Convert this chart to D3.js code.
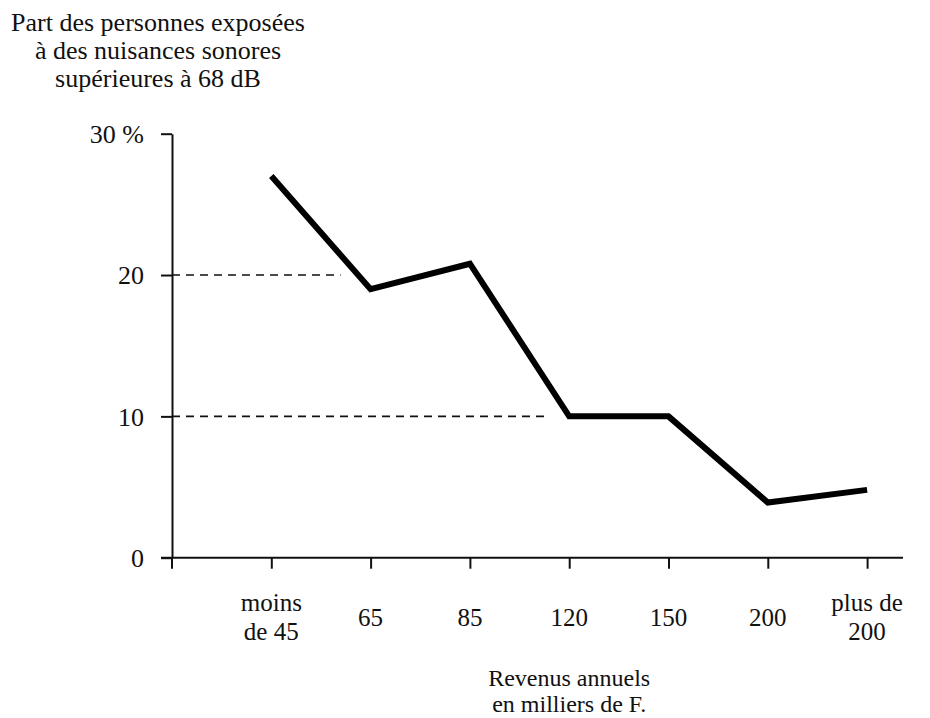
<!DOCTYPE html>
<html>
<head>
<meta charset="utf-8">
<script src="https://cdn.jsdelivr.net/npm/d3@7"></script>
<style>
  html, body { margin: 0; padding: 0; background: #fff; }
  svg { display: block; }
  text { font-family: "Liberation Serif", "DejaVu Serif", serif; fill: #111; }
</style>
</head>
<body>
<svg id="chart" width="930" height="718"></svg>
<script>
// ---- data ----
const categories = ["moins de 45", "65", "85", "120", "150", "200", "plus de 200"];
const categoryLines = [["moins", "de 45"], ["65"], ["85"], ["120"], ["150"], ["200"], ["plus de", "200"]];
const values = [27, 19, 20.8, 10, 10, 3.9, 4.8];
const yTicks = [0, 10, 20, 30];
const yTickLabels = ["0", "10", "20", "30 %"];
const guideValues = [20, 10];
const guideEnds = ["65", "120"];
const yTitle = ["Part des personnes exposées", "à des nuisances sonores", "supérieures à 68 dB"];
const xTitle = ["Revenus annuels", "en milliers de F."];

// ---- layout ----
const svg = d3.select("#chart");
const x0 = 172, yBottom = 557.7, yTop = 133.7, step = 99.3;

const x = d3.scalePoint().domain(categories).range([x0, x0 + step * 8]).padding(1);
const y = d3.scaleLinear().domain([0, 30]).range([yBottom, yTop]);

// guide dashed lines
svg.append("g").selectAll("line").data(guideValues).join("line")
  .attr("x1", x0).attr("x2", (d, i) => x(guideEnds[i]) - (i === 0 ? 30 : 22))
  .attr("y1", d => y(d)).attr("y2", d => y(d))
  .attr("stroke", "#111").attr("stroke-width", 1.6).attr("stroke-dasharray", "8,6");

// y axis
const yAxis = d3.axisLeft(y).tickValues(yTicks)
  .tickFormat((d, i) => yTickLabels[i]).tickSize(11).tickSizeOuter(0).tickPadding(17);
const gy = svg.append("g").attr("transform", `translate(${x0},0)`).call(yAxis);
gy.select(".domain").attr("stroke", "#111").attr("stroke-width", 2);
gy.selectAll(".tick line").attr("stroke", "#111").attr("stroke-width", 2);
gy.selectAll(".tick text").style("font-size", "26px").attr("font-family", null).attr("fill", "#111").attr("dy", "0.34em");

// x axis
const xAxis = d3.axisBottom(x).tickSize(11).tickSizeOuter(0).tickFormat("");
const gx = svg.append("g").attr("transform", `translate(0,${yBottom})`).call(xAxis);
gx.select(".domain").remove();
gx.append("line").attr("x1", x0 - 11).attr("x2", 903).attr("y1", 0).attr("y2", 0)
  .attr("stroke", "#111").attr("stroke-width", 2);
gx.append("line").attr("x1", x0).attr("x2", x0).attr("y1", 0).attr("y2", 11)
  .attr("stroke", "#111").attr("stroke-width", 2);
gx.selectAll(".tick line").attr("stroke", "#111").attr("stroke-width", 2);

// category labels
const catG = svg.append("g").style("font-size", "25px").attr("text-anchor", "middle");
categories.forEach((c, i) => {
  const lines = categoryLines[i];
  const t = catG.append("text").attr("x", x(c))
    .attr("y", lines.length === 1 ? 626 : 611);
  lines.forEach((l, j) => t.append("tspan").attr("x", x(c)).attr("dy", j === 0 ? 0 : 29).text(l));
});

// line
svg.append("path").datum(values)
  .attr("fill", "none").attr("stroke", "#000").attr("stroke-width", 6)
  .attr("stroke-linejoin", "miter").attr("stroke-linecap", "butt")
  .attr("d", d3.line().x((d, i) => x(categories[i])).y(d => y(d)));

// titles
const yt = svg.append("text").attr("text-anchor", "middle").style("font-size", "26px");
yTitle.forEach((l, j) => yt.append("tspan").attr("x", 158).attr("y", 31 + j * 28).text(l));
const xt = svg.append("text").attr("text-anchor", "middle").style("font-size", "24px");
xTitle.forEach((l, j) => xt.append("tspan").attr("x", x("120")).attr("y", 686 + j * 26).text(l));
</script>
</body>
</html>
